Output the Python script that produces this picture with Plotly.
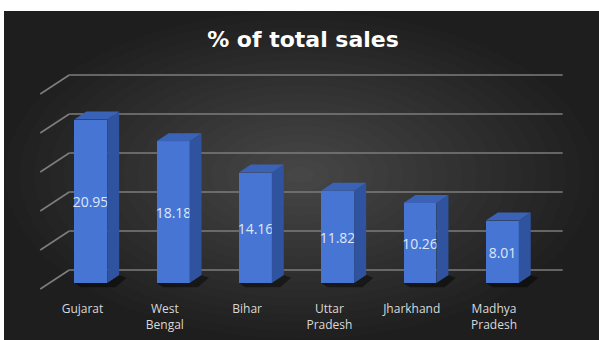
import plotly.graph_objects as go

# ---------------- data ----------------
states = ["Gujarat", "West Bengal", "Bihar", "Uttar Pradesh", "Jharkhand", "Madhya Pradesh"]
tick_labels = ["Gujarat", "West<br>Bengal", "Bihar", "Uttar<br>Pradesh", "Jharkhand", "Madhya<br>Pradesh"]
sales_pct = [20.95, 18.18, 14.16, 11.82, 10.26, 8.01]
grid_values = [0, 5, 10, 15, 20, 25]
title_text = "% of total sales"

# ---------------- layout geometry ----------------
W, H = 599, 340
ML, MR, MT, MB = 29, 35, 60, 40
X_RANGE = [-0.75, 5.75]
Y_RANGE = [-2.18, 28.59]

BAR_HALF = 0.2      # half width of the front face (category units)
DX, DY = 0.146, 1.03  # depth offset of the 3D bar (x units, value units)
WALL_X0, WALL_X1 = -0.261, 5.734
WALL_DY = 1.667
FRONT_X, FRONT_DY = -0.613, -0.77

FRONT = "#4675D4"
SIDE = "#2F539E"
TOP = "#3A63B8"
GRID = "#7d7d7d"

pw = W - ML - MR
ph = H - MT - MB


def px2paper_x(px):
    return (px - ML) / pw


def px2paper_y(py):
    return (H - MB - py) / ph


idx = list(range(len(states)))

shapes = []
# soft radial light (ellipses kept inside the picture)
n_steps = 20
cx, cy = 300, 175
for k in range(n_steps):
    f = 1 - k / n_steps
    rx, ry = 295 * f, 164 * f
    shapes.append(dict(type="circle", xref="paper", yref="paper", layer="below",
                       x0=px2paper_x(cx - rx), x1=px2paper_x(cx + rx),
                       y0=px2paper_y(cy + ry), y1=px2paper_y(cy - ry),
                       fillcolor="rgba(255,255,255,0.0115)", line=dict(width=0)))
# white margin strips at the top and the left of the picture
shapes.append(dict(type="rect", xref="paper", yref="paper", layer="below",
                   x0=px2paper_x(0), x1=px2paper_x(599), y0=px2paper_y(11), y1=px2paper_y(0),
                   fillcolor="white", line=dict(width=0)))
shapes.append(dict(type="rect", xref="paper", yref="paper", layer="below",
                   x0=px2paper_x(0), x1=px2paper_x(4), y0=px2paper_y(340), y1=px2paper_y(11),
                   fillcolor="white", line=dict(width=0)))

# gridlines on the back wall plus the diagonal on the side wall
for v in grid_values:
    shapes.append(dict(type="line", xref="x", yref="y", layer="below",
                       x0=WALL_X0, x1=WALL_X1, y0=v + WALL_DY, y1=v + WALL_DY,
                       line=dict(color=GRID, width=1.6)))
    shapes.append(dict(type="line", xref="x", yref="y", layer="below",
                       x0=FRONT_X, x1=WALL_X0, y0=v + FRONT_DY, y1=v + WALL_DY,
                       line=dict(color=GRID, width=1.6)))

# floor shadows of bars
for i, v in zip(idx, sales_pct):
    xr = i + BAR_HALF
    path = (f"M {i - BAR_HALF} 0 L {xr} 0 L {xr + DX} {DY} L {xr + DX + 0.09} {DY - 0.35} "
            f"L {xr + 0.1} -0.55 L {i - 0.12} -0.55 Z")
    shapes.append(dict(type="path", xref="x", yref="y", layer="below", path=path,
                       fillcolor="rgba(0,0,0,0.45)", line=dict(width=0)))

# side and top faces of the 3D bars, drawn above the front faces
for i, v in zip(idx, sales_pct):
    xl, xr = i - BAR_HALF, i + BAR_HALF
    side = f"M {xr} 0 L {xr + DX} {DY} L {xr + DX} {v + DY} L {xr} {v} Z"
    top = f"M {xl} {v} L {xr} {v} L {xr + DX} {v + DY} L {xl + DX} {v + DY} Z"
    shapes.append(dict(type="path", xref="x", yref="y", layer="above", path=side,
                       fillcolor=SIDE, line=dict(width=0)))
    shapes.append(dict(type="path", xref="x", yref="y", layer="above", path=top,
                       fillcolor=TOP, line=dict(width=0)))

fig = go.Figure()

# front faces
fig.add_trace(go.Bar(
    x=idx, y=sales_pct, width=2 * BAR_HALF,
    marker=dict(color=FRONT, line=dict(width=0)),
    text=[f"{v:.2f}" for v in sales_pct], textposition="inside",
    insidetextanchor="middle", textangle=0, constraintext="none",
    textfont=dict(family="Open Sans", size=14, color="#dfe7f6"),
    hoverinfo="skip", showlegend=False,
))

fig.update_layout(
    width=W, height=H, autosize=False,
    margin=dict(l=ML, r=MR, t=MT, b=MB, pad=0, autoexpand=False),
    paper_bgcolor="#1e1e1e",
    plot_bgcolor="rgba(0,0,0,0)",
    shapes=shapes,
    title=dict(text=f"<b>{title_text}</b>", x=303 / W, xanchor="center",
               y=1 - 39 / H, yanchor="middle",
               font=dict(family="DejaVu Sans", size=22, color="white")),
    xaxis=dict(range=X_RANGE, tickmode="array", automargin=False,
               tickvals=[i - 0.1 for i in idx], ticktext=tick_labels,
               showgrid=False, zeroline=False, showline=False, ticks="",
               tickfont=dict(family="Open Sans", size=12, color="#d9d9d9"),
               fixedrange=True),
    yaxis=dict(range=Y_RANGE, showgrid=False, zeroline=False, showline=False,
               automargin=False, showticklabels=False, ticks="", fixedrange=True),
    bargap=0,
)

fig.write_html("out.html")
